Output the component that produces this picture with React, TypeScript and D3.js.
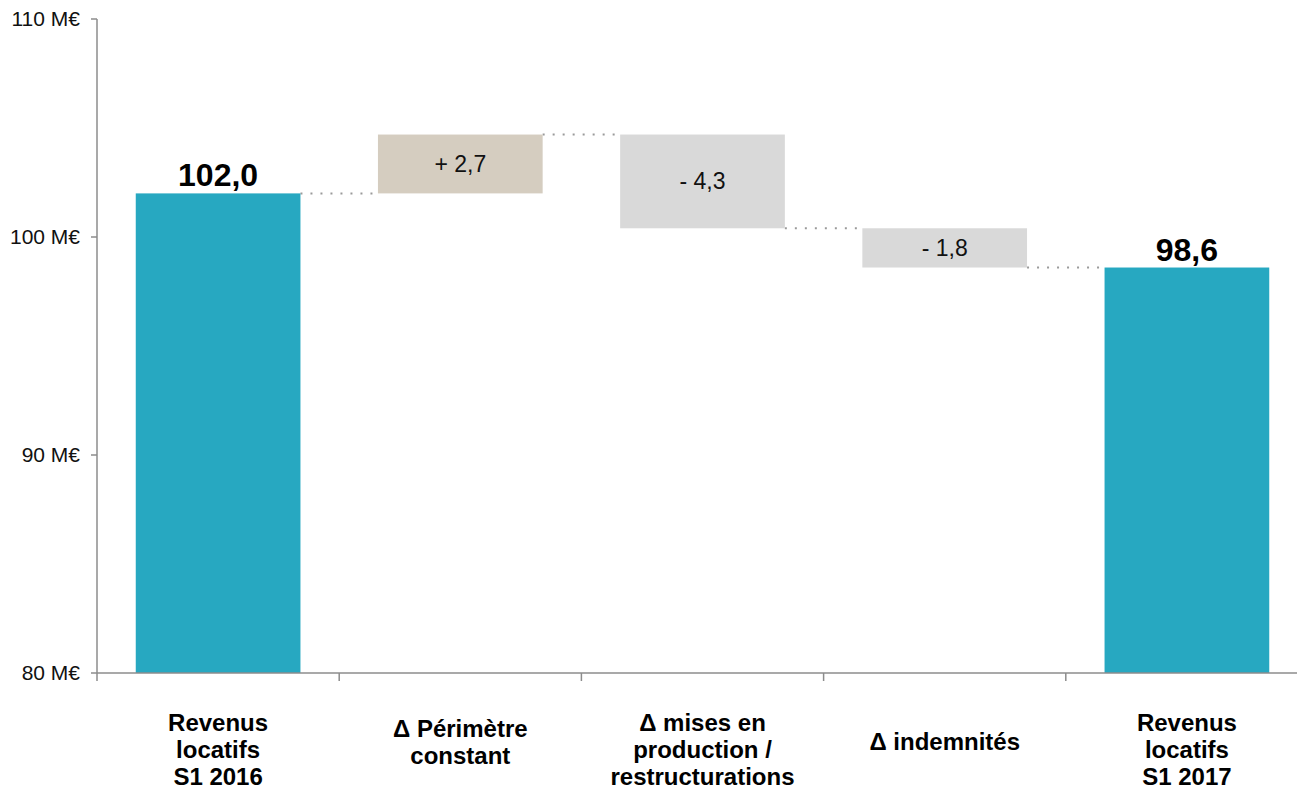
import React from "react";
import * as d3 from "d3";

const categories: string[][] = [
  ["Revenus", "locatifs", "S1 2016"],
  ["Δ Périmètre", "constant"],
  ["Δ mises en", "production /", "restructurations"],
  ["Δ indemnités"],
  ["Revenus", "locatifs", "S1 2017"],
];
const kinds = ["total", "delta", "delta", "delta", "total"];
const values = [102.0, 2.7, -4.3, -1.8, 98.6];
const labels = ["102,0", "+ 2,7", "- 4,3", "- 1,8", "98,6"];
const yTicks = [80, 90, 100, 110];
const yTickLabels = ["80 M€", "90 M€", "100 M€", "110 M€"];

const W = 1297;
const H = 791;
const FONT = "Arial, 'Liberation Sans', Helvetica, sans-serif";
const TEAL = "#27A8C1";
const BEIGE = "#D5CDC0";
const GREY = "#D9D9D9";
const AXIS = "#8C8C8C";

export default function App() {
  const x = d3
    .scaleBand<number>()
    .domain(d3.range(categories.length))
    .range([97, 1308])
    .paddingInner(0.32)
    .paddingOuter(0.16);
  const band = d3.scaleBand<number>().domain(d3.range(categories.length)).range([97, 1308]);
  const y = d3.scaleLinear().domain([80, 110]).range([673, 19]);

  let running = 0;
  const bars = values.map((v, i) => {
    if (kinds[i] === "total") {
      running = v;
      return { i, lo: 80, hi: v, end: v };
    }
    const start = running;
    running = start + v;
    return { i, lo: Math.min(start, running), hi: Math.max(start, running), end: running };
  });

  const colorFor = (i: number) =>
    kinds[i] === "total" ? TEAL : values[i] > 0 ? BEIGE : GREY;

  return (
    <svg
      width={W}
      height={H}
      style={{ position: "absolute", left: 0, top: 0, background: "#fff" }}
      fontFamily={FONT}
    >
      {bars.slice(0, -1).map((b, k) => (
        <line
          key={"c" + k}
          x1={x(b.i)! + x.bandwidth()}
          x2={x(b.i + 1)!}
          y1={y(b.end)}
          y2={y(b.end)}
          stroke="#9A9A9A"
          strokeWidth={2}
          strokeDasharray="2,8"
        />
      ))}
      {bars.map((b) => (
        <rect
          key={"b" + b.i}
          x={x(b.i)}
          width={x.bandwidth()}
          y={y(b.hi)}
          height={y(b.lo) - y(b.hi)}
          fill={colorFor(b.i)}
        />
      ))}
      {bars.map((b) =>
        kinds[b.i] === "total" ? (
          <text
            key={"l" + b.i}
            x={x(b.i)! + x.bandwidth() / 2}
            y={y(b.hi) - 7}
            textAnchor="middle"
            fontSize={32}
            fontWeight="bold"
            fill="#000"
          >
            {labels[b.i]}
          </text>
        ) : (
          <text
            key={"l" + b.i}
            x={x(b.i)! + x.bandwidth() / 2}
            y={(y(b.hi) + y(b.lo)) / 2}
            dy="0.35em"
            textAnchor="middle"
            fontSize={23}
            fill="#111"
          >
            {labels[b.i]}
          </text>
        )
      )}
      <line x1={97} x2={97} y1={y(110)} y2={y(80)} stroke={AXIS} strokeWidth={1.5} />
      {yTicks.map((t, i) => (
        <g key={"yt" + t}>
          <line x1={91} x2={97} y1={y(t)} y2={y(t)} stroke={AXIS} strokeWidth={1.5} />
          <text
            x={80}
            y={y(t)}
            dy="0.35em"
            textAnchor="end"
            fontSize={21}
            fill="#111"
          >
            {yTickLabels[i]}
          </text>
        </g>
      ))}
      <line x1={97} x2={1308} y1={y(80)} y2={y(80)} stroke={AXIS} strokeWidth={1.5} />
      {d3.range(categories.length + 1).map((i) => {
        const px = i < categories.length ? band(i)! : band(i - 1)! + band.bandwidth();
        return (
          <line key={"xt" + i} x1={px} x2={px} y1={y(80)} y2={y(80) + 8} stroke={AXIS} strokeWidth={1.5} />
        );
      })}
      {categories.map((lines, i) => {
        const lh = 27;
        const blockH = lines.length * lh;
        let top = 742 - blockH / 2;
        if (top < 709.5) top = 709.5;
        const cx = band(i)! + band.bandwidth() / 2;
        return (
          <text key={"cat" + i} textAnchor="middle" fontSize={24} fontWeight="bold" fill="#000">
            {lines.map((ln, j) => (
              <tspan key={j} x={cx} y={top + lh * j + lh / 2} dy="0.35em">
                {ln}
              </tspan>
            ))}
          </text>
        );
      })}
    </svg>
  );
}
